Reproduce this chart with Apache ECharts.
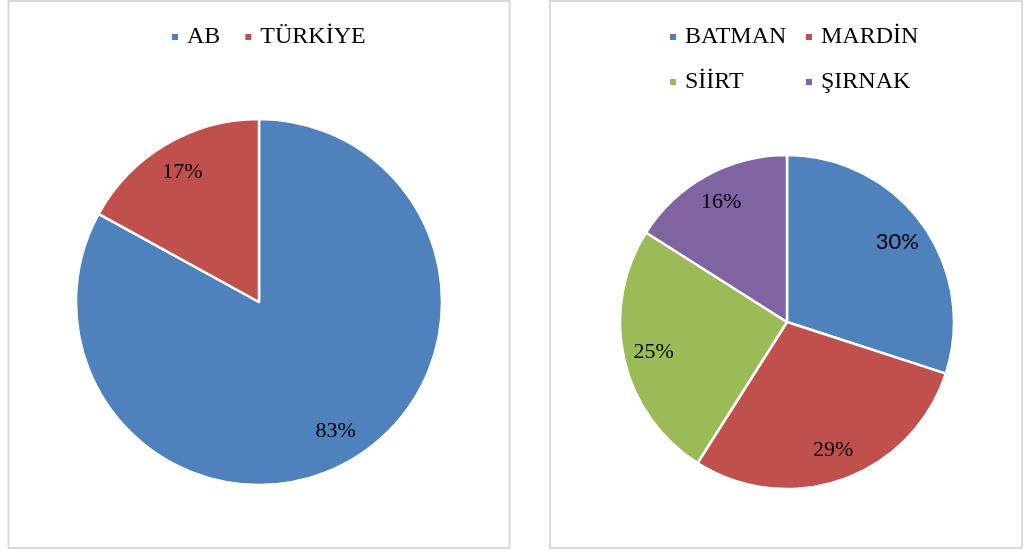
<!DOCTYPE html>
<html>
<head>
<meta charset="utf-8">
<script src="https://cdn.jsdelivr.net/npm/echarts@6/dist/echarts.min.js"></script>
<style>
html,body{margin:0;padding:0;background:#fff;}
#chart{width:1026px;height:552px;}
</style>
</head>
<body>
<div id="chart"></div>
<script>
// Left pie data
const leftCategories = ['AB', 'TÜRKİYE'];
const leftValues = [83, 17];
// Right pie data
const rightCategories = ['BATMAN', 'MARDİN', 'SİİRT', 'ŞIRNAK'];
const rightValues = [30, 29, 25, 16];

const leftColors = ['#4F81BD', '#C0504D'];
const rightColors = ['#4F81BD', '#C0504D', '#9BBB59', '#8064A2'];

const serif = '"Liberation Serif", "Times New Roman", serif';

function mainData(cats, vals, colors) {
  return cats.map((c, i) => ({ name: c, value: vals[i], itemStyle: { color: colors[i] } }));
}
function labelData(cats, vals, fonts) {
  return cats.map((c, i) => {
    const d = { name: 'lbl_' + c, value: vals[i] };
    if (fonts && fonts[i]) d.label = fonts[i];
    return d;
  });
}

const legendText = { fontFamily: serif, fontSize: 24, color: '#000', lineHeight: 26, padding: [0, 0, 0, 3] };
function legendAt(names, left, top, gap) {
  return {
    data: names, left: left, top: top, orient: 'horizontal', padding: 0,
    itemWidth: 8, itemHeight: 8, itemGap: gap || 10, icon: 'rect',
    textStyle: legendText, selectedMode: false
  };
}

const chart = echarts.init(document.getElementById('chart'), null, { renderer: 'canvas' });
const labelStyle = { show: true, position: 'inside', formatter: '{c}%', fontFamily: serif, fontSize: 22, color: '#000' };

chart.setOption({
  backgroundColor: '#fff',
  animation: false,
  graphic: [
    { type: 'rect', shape: { x: 8.5, y: 1, width: 501, height: 547 }, style: { fill: 'none', stroke: '#d9d9d9', lineWidth: 2 }, z: -1 },
    { type: 'rect', shape: { x: 550, y: 1, width: 472, height: 547 }, style: { fill: 'none', stroke: '#d9d9d9', lineWidth: 2 }, z: -1 }
  ],
  legend: [
    legendAt(leftCategories, 170, 24, 23),
    legendAt([rightCategories[0]], 668, 24),
    legendAt([rightCategories[1]], 804, 24),
    legendAt([rightCategories[2]], 668, 69),
    legendAt([rightCategories[3]], 804, 69)
  ],
  series: [
    {
      type: 'pie', center: [259, 302], radius: [0, 183], startAngle: 90, clockwise: true,
      label: { show: false }, labelLine: { show: false }, silent: true,
      itemStyle: { borderColor: '#fff', borderWidth: 2.5 },
      data: mainData(leftCategories, leftValues, leftColors)
    },
    {
      type: 'pie', center: [259, 302], radius: [112, 183], startAngle: 90, clockwise: true,
      label: labelStyle, labelLine: { show: false }, silent: true,
      itemStyle: { color: 'rgba(0,0,0,0)' }, z: 5,
      data: labelData(leftCategories, leftValues)
    },
    {
      type: 'pie', center: [787, 322], radius: [0, 167], startAngle: 90, clockwise: true,
      label: { show: false }, labelLine: { show: false }, silent: true,
      itemStyle: { borderColor: '#fff', borderWidth: 2.5 },
      data: mainData(rightCategories, rightValues, rightColors)
    },
    {
      type: 'pie', center: [787, 322], radius: [100, 167], startAngle: 90, clockwise: true,
      label: labelStyle, labelLine: { show: false }, silent: true,
      itemStyle: { color: 'rgba(0,0,0,0)' }, z: 5,
      data: labelData(rightCategories, rightValues, [{ fontFamily: 'Lato, "Open Sans", sans-serif', fontSize: 22 }])
    }
  ]
});
</script>
</body>
</html>
